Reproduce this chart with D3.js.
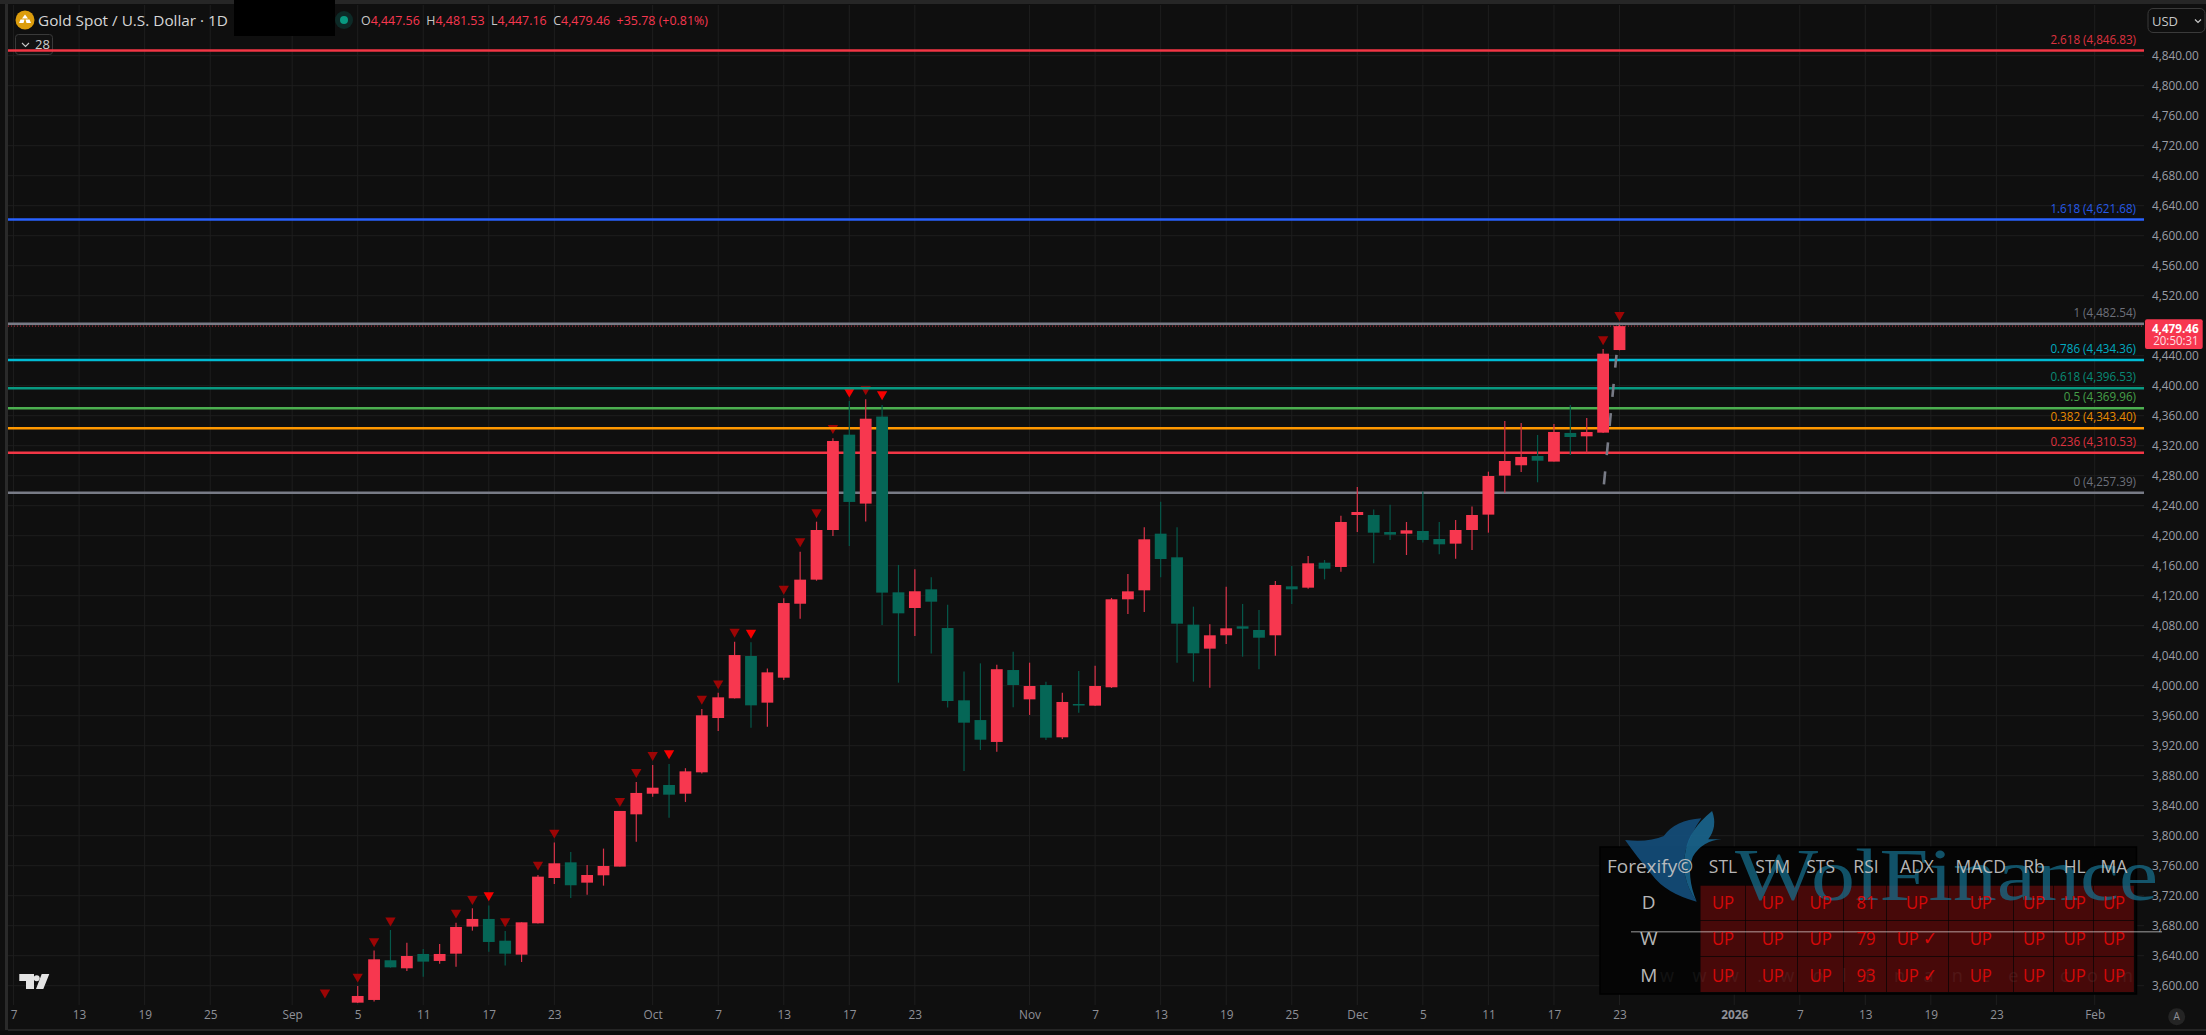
<!DOCTYPE html>
<html><head><meta charset="utf-8">
<style>html,body{margin:0;padding:0;background:#0f0f0f;overflow:hidden}svg{display:block}text{font-family:"Open Sans",sans-serif}</style>
<script src="https://cdnjs.cloudflare.com/ajax/libs/d3/7.9.0/d3.min.js"></script>
</head><body>
<svg id="c" width="2206" height="1035"></svg>
<script>
// ---- data (bar index 0 = 5 Sep, trading days) ----
const barDates=["Sep 5","Sep 8","Sep 9","Sep 10","Sep 11","Sep 12","Sep 15","Sep 16","Sep 17","Sep 18","Sep 19","Sep 22","Sep 23","Sep 24","Sep 25","Sep 26","Sep 29","Sep 30","Oct 1","Oct 2","Oct 3","Oct 6","Oct 7","Oct 8","Oct 9","Oct 10","Oct 13","Oct 14","Oct 15","Oct 16","Oct 17","Oct 20","Oct 21","Oct 22","Oct 23","Oct 24","Oct 27","Oct 28","Oct 29","Oct 30","Oct 31","Nov 3","Nov 4","Nov 5","Nov 6","Nov 7","Nov 10","Nov 11","Nov 12","Nov 13","Nov 14","Nov 17","Nov 18","Nov 19","Nov 20","Nov 21","Nov 24","Nov 25","Nov 26","Nov 27","Nov 28","Dec 1","Dec 2","Dec 3","Dec 4","Dec 5","Dec 8","Dec 9","Dec 10","Dec 11","Dec 12","Dec 15","Dec 16","Dec 17","Dec 18","Dec 19","Dec 22","Dec 23"];
const opens=[3577.4,3581,3633.9,3623.2,3642.3,3633,3642.7,3678.8,3689,3660,3641.4,3683.2,3743.6,3764.5,3737.4,3747.2,3758.8,3828.5,3856,3867.6,3856,3884.5,3956.9,3983.2,4039.6,3977.4,4010.7,4109.3,4141.4,4207.6,4334.7,4242.8,4358.8,4124.5,4103.6,4128.5,4076.9,3980.5,3954.2,3925,4020.9,3981.8,4000.9,3931.2,3975.6,3973.4,3997.9,4115.2,4127.2,4202.7,4171.2,4081.4,4049.4,4067.2,4079.2,4074.3,4067.2,4132.5,4130.7,4164,4158.3,4227.6,4227.6,4204.9,4202.7,4206.3,4195.6,4189.4,4207.6,4228.1,4280.1,4293.9,4306.3,4298.8,4337,4332.5,4337.4,4447.56];
const highs=[3599.7,3646.8,3674.3,3657.4,3649,3655.6,3684,3703.2,3706.8,3673,3684.5,3747.6,3790.8,3778.3,3761,3782.8,3833,3871.6,3894.3,3895.6,3890,3968.9,3990.7,4058.7,4057.8,4023,4116.5,4178.7,4218.7,4329.9,4379.6,4381.9,4374.3,4161,4155.2,4144.5,4108,4019.1,4029.8,4028,4045.4,4030.7,4005.4,3990.7,4019.6,4026.7,4117,4149,4211.2,4245.4,4211.2,4105.4,4081.8,4132,4109,4101,4139.6,4159.6,4172.9,4167.6,4226.7,4265,4235,4241.4,4218.3,4258.8,4218.3,4221,4238.8,4285.4,4353,4350.3,4334.3,4349,4374.3,4357,4449,4481.53];
const lows=[3577,3578.8,3624,3619.7,3612,3629.4,3625.4,3673.4,3645.4,3626.8,3631.6,3683,3735.6,3717,3721.4,3733.4,3758.8,3792,3852,3824,3845,3883,3939.6,3983,3944,3945.4,4007.6,4089.4,4140,4199.6,4186.3,4218.8,4081,4004,4066.3,4043.1,3971.1,3886.3,3914.3,3912,3971.2,3961,3927.6,3929,3964,3973,3997,4095.6,4098.3,4144.5,4030.7,4005.4,3997.4,4055.6,4038.7,4021.8,4040.1,4108.9,4129.4,4141.8,4152.1,4204.9,4163.2,4194.3,4174.3,4190.8,4175.2,4169.4,4181,4204.1,4257.4,4285,4271.2,4298.8,4307.6,4309.9,4337,4447.16];
const closes=[3586.3,3635.2,3624.5,3639.6,3632.1,3642.3,3678.3,3689,3658.3,3642.7,3684.5,3745.4,3763.2,3733.9,3747.6,3759.6,3833,3857,3864,3854.7,3885.8,3960.5,3984.5,4040.9,3973.8,4017.8,4110.2,4141.4,4207.6,4326.3,4245,4356,4124.1,4096.5,4125.9,4112,3979.6,3950.7,3928,4022,4000.9,3999.6,3930.7,3978.3,3974.3,3999.6,4115.2,4125.8,4195.2,4168.9,4082.7,4043.2,4067.2,4076.5,4076,4064,4134.3,4128.5,4163.2,4156,4218.3,4231.6,4204,4201.4,4207.2,4194.3,4188.5,4207.6,4227.6,4279.6,4299.6,4305,4300,4338.3,4331.6,4338.3,4442.7,4479.46];
const markerIdx=[-2,0,1,2,6,7,8,9,11,12,16,17,18,19,21,22,23,24,26,27,28,29,30,31,32,76,77];
const markerPrice=[3590.8,3612.1,3659.2,3686.8,3697.4,3715.6,3720.5,3685.9,3761.4,3804.1,3846.3,3885,3907.6,3909.8,3982.7,4003.1,4072,4070.7,4129.3,4192.5,4231.2,4343.6,4392.1,4395.2,4388.5,4461.9,4494.3];
const markerBright=[0,0,0,0,0,0,1,0,0,0,0,0,0,1,0,0,0,1,0,0,0,0,1,0,1,0,0];
const fibRatio=["2.618","1.618","1","0.786","0.618","0.5","0.382","0.236","0"];
const fibPrice=[4846.83,4621.68,4482.54,4434.36,4396.53,4369.96,4343.40,4310.53,4257.39];
const fibColor=["#f23645","#2962ff","#787b86","#00bcd4","#089981","#4caf50","#ff9800","#f23645","#787b86"];
const priceTicks=d3.range(3600,4841,40);
const xTickIdx=[-21,-17,-13,-9,-4,0,4,8,12,18,22,26,30,34,41,45,49,53,57,61,65,69,73,77,84,88,92,96,100,106];
const xTickLabels=["7","13","19","25","Sep","5","11","17","23","Oct","7","13","17","23","Nov","7","13","19","25","Dec","5","11","17","23","2026","7","13","19","23","Feb"];
const tableCols=["STL","STM","STS","RSI","ADX","MACD","Rb","HL","MA"];
const tableRows=["D","W","M"];
const tableD=["UP","UP","UP","81","UP","UP","UP","UP","UP"];
const tableW=["UP","UP","UP","79","UP ✓","UP","UP","UP","UP"];
const tableM=["UP","UP","UP","93","UP ✓","UP","UP","UP","UP"];

const UP="#f7374f",DOWN="#056656",BG="#0f0f0f";
const svg=d3.select("#c");
const x=d3.scaleLinear().domain([0,77]).range([357.7,1619.5]);
const y=d3.scaleLinear().domain([3600,4840]).range([985.7,55.7]);
const R=2144,L=8,T=5,B=1005;
// condense real text horizontally, keeping its height
const squeeze=(sel,f)=>sel.each(function(){const w=this.getComputedTextLength();d3.select(this).attr("textLength",w*f).attr("lengthAdjust","spacingAndGlyphs");});
svg.append("rect").attr("width",2206).attr("height",1035).attr("fill",BG);
// window frame
svg.append("rect").attr("x",0).attr("y",0).attr("width",2206).attr("height",4).attr("fill","#262626");
svg.append("rect").attr("x",5).attr("y",4).attr("width",3).attr("height",1026).attr("fill","#2a2a2a");
svg.append("rect").attr("x",8).attr("y",1029).attr("width",2198).attr("height",2).attr("fill","#242424");
svg.append("rect").attr("x",0).attr("y",1031).attr("width",2206).attr("height",4).attr("fill","#0c0c0c");
svg.append("defs").append("clipPath").attr("id","plot").append("rect").attr("x",L).attr("y",T).attr("width",R-L).attr("height",B-T);
const plot=svg.append("g").attr("clip-path","url(#plot)");
// grid
plot.append("g").selectAll("line").data(priceTicks).join("line").attr("x1",L).attr("x2",R).attr("y1",d=>y(d)).attr("y2",d=>y(d)).attr("stroke","#1e1e1e").attr("stroke-width",1);
plot.append("g").selectAll("line").data(xTickIdx).join("line").attr("x1",d=>x(d)).attr("x2",d=>x(d)).attr("y1",T).attr("y2",B).attr("stroke","#1e1e1e").attr("stroke-width",1);
// markers beneath the fib lines
plot.append("g").selectAll("path").data(markerIdx).join("path")
  .attr("d",d3.symbol(d3.symbolTriangle,46))
  .attr("transform",(d,i)=>`translate(${x(d)},${y(markerPrice[i])}) rotate(180)`)
  .attr("fill",(d,i)=>markerBright[i]?"#f80000":"#9c0505");
// fib lines
plot.append("g").selectAll("line").data(fibPrice).join("line").attr("x1",L).attr("x2",R).attr("y1",d=>y(d)).attr("y2",d=>y(d)).attr("stroke",(d,i)=>fibColor[i]).attr("stroke-width",2.5);
// fib trend line
plot.append("line").attr("x1",x(76)).attr("y1",y(4257.39)).attr("x2",x(77)).attr("y2",y(4482.54)).attr("stroke","#787b86").attr("stroke-width",2.6).attr("stroke-dasharray","13 16.3").attr("stroke-dashoffset",21);
// candles
const candle=plot.append("g").selectAll("g").data(barDates).join("g");
candle.append("line").attr("x1",(d,i)=>x(i)).attr("x2",(d,i)=>x(i)).attr("y1",(d,i)=>y(highs[i])).attr("y2",(d,i)=>y(lows[i])).attr("stroke",(d,i)=>closes[i]>=opens[i]?"#d83349":"#05584a").attr("stroke-width",1.2);
candle.append("rect").attr("x",(d,i)=>x(i)-5.9).attr("width",11.8).attr("y",(d,i)=>y(Math.max(opens[i],closes[i]))).attr("height",(d,i)=>Math.max(1.5,Math.abs(y(opens[i])-y(closes[i])))).attr("fill",(d,i)=>closes[i]>=opens[i]?UP:DOWN);
// close dotted
const lastClose=closes[closes.length-1];
plot.append("line").attr("x1",L).attr("x2",R).attr("y1",y(lastClose)).attr("y2",y(lastClose)).attr("stroke",UP).attr("stroke-width",1).attr("stroke-dasharray","1 2").attr("opacity",.75);
// fib labels
svg.append("g").selectAll("text").data(fibPrice).join("text").attr("x",2136).attr("y",d=>y(d)-11.4).attr("dy","0.35em").attr("text-anchor","end").attr("font-size",12.8).attr("fill",(d,i)=>fibColor[i]).attr("opacity",.9).text((d,i)=>`${fibRatio[i]} (${d3.format(",.2f")(d)})`).call(squeeze,.91);
// axes
const yAxis=d3.axisRight(y).tickValues(priceTicks).tickFormat(d3.format(",.2f")).tickSize(0).tickPadding(0);
const gy=svg.append("g").attr("transform","translate(2146,0)").call(yAxis);
gy.select(".domain").remove();
gy.selectAll("text").attr("x",52.7).attr("text-anchor","end").attr("font-size",13).attr("fill","#9a9da6").style("font-family",'"Open Sans",sans-serif').call(squeeze,.91);
const xAxis=d3.axisBottom(x).tickValues(xTickIdx).tickFormat((d,i)=>xTickLabels[i]).tickSize(0).tickPadding(0);
const gx=svg.append("g").attr("transform","translate(0,1010)").call(xAxis);
gx.select(".domain").remove();
gx.selectAll("text").attr("font-size",13).attr("fill","#8f9198").style("font-family",'"Open Sans",sans-serif').attr("font-weight",(d,i)=>xTickLabels[i]==="2026"?700:400).call(squeeze,.91);
// price tag
svg.append("rect").attr("x",2145).attr("y",319.3).attr("width",57.7).attr("height",29.7).attr("rx",2).attr("fill",UP);
svg.append("text").attr("x",2198.7).attr("y",326.5+1.5).attr("dy","0.35em").attr("text-anchor","end").attr("font-size",13).attr("font-weight",700).attr("fill","#fff").text(d3.format(",.2f")(lastClose)).call(squeeze,.9);
svg.append("text").attr("x",2198.7).attr("y",341).attr("dy","0.35em").attr("text-anchor","end").attr("font-size",12.5).attr("fill","#ffdfe3").text("20:50:31").call(squeeze,.92);
// USD + auto
svg.append("rect").attr("x",2148).attr("y",8.5).attr("width",57).attr("height",24).attr("rx",5).attr("fill",BG).attr("stroke","#3a3a3a");
svg.append("text").attr("x",2152).attr("y",21).attr("dy","0.35em").attr("font-size",13).attr("fill","#c8c8c8").text("USD");
svg.append("path").attr("d","M2195 19.5l3 3 3-3").attr("fill","none").attr("stroke","#c8c8c8").attr("stroke-width",1.2);
svg.append("circle").attr("cx",2176.7).attr("cy",1016.7).attr("r",8.5).attr("fill","#242424");
svg.append("text").attr("x",2176.7).attr("y",1016.7).attr("dy","0.35em").attr("text-anchor","middle").attr("font-size",10).attr("fill","#8f9198").text("A");
// header
svg.append("circle").attr("cx",25).attr("cy",20).attr("r",9.5).attr("fill","#dc9d0d");
svg.append("path").attr("d","M25 14.5l3 4h-6zM20.5 19.5h4l-1 3.500h-4.500zM25.500 19.500h4l1.500 3.500h-4.500z").attr("fill","#fff");
svg.append("text").attr("x",38).attr("y",20.5).attr("dy","0.35em").attr("font-size",15).attr("fill","#d6d6d6").attr("textLength",190).attr("lengthAdjust","spacingAndGlyphs").text("Gold Spot / U.S. Dollar · 1D");
svg.append("rect").attr("x",234).attr("y",0).attr("width",101).attr("height",36).attr("fill","#000");
svg.append("circle").attr("cx",344).attr("cy",20).attr("r",9).attr("fill","#0d2a27");
svg.append("circle").attr("cx",344).attr("cy",20).attr("r",4).attr("fill","#089981");
const ohlc=svg.append("text").attr("x",361).attr("y",20.5).attr("dy","0.35em").attr("font-size",13).attr("textLength",347).attr("lengthAdjust","spacingAndGlyphs");
[["O","#c8c8c8"],["4,447.56 ",UP],[" H","#c8c8c8"],["4,481.53 ",UP],[" L","#c8c8c8"],["4,447.16 ",UP],[" C","#c8c8c8"],["4,479.46 ",UP],[" +35.78 (+0.81%)",UP]].forEach(p=>ohlc.append("tspan").attr("fill",p[1]).attr("xml:space","preserve").text(p[0]));
svg.append("rect").attr("x",15.5).attr("y",34.5).attr("width",37).attr("height",20).attr("rx",3).attr("fill","#121212").attr("stroke","#3a3a3a");
svg.append("line").attr("x1",15).attr("x2",53).attr("y1",y(4846.83)).attr("y2",y(4846.83)).attr("stroke","#f23645").attr("stroke-width",2.5);
svg.append("path").attr("d","M22 43l3.500 3.500 3.500-3.500").attr("fill","none").attr("stroke","#c8c8c8").attr("stroke-width",1.1);
svg.append("text").attr("x",35).attr("y",44.5).attr("dy","0.35em").attr("font-size",13).attr("fill","#d0d0d0").text("28");
// TV logo
svg.append("path").attr("fill","#e4e4e4").attr("d","M19.300 974H34V989H26V981H19.300ZM41.700 974H49.300L43.300 989H36Z");
svg.append("circle").attr("cx",36.700).attr("cy",978.300).attr("r",3).attr("fill","#e4e4e4");
// watermark sits under the table's texts and over its cells
const colEdges=[1700.5,1746,1798,1844,1887,1949,2014,2054,2094,2134.6];
const colCenters=[1723,1772.8,1820.7,1866,1917,1980.8,2034,2074.7,2114];
const rowEdges=[885.7,921,957,992.7];
const rowCenters=[902.7,938.7,975];
svg.append("rect").attr("x",1600).attr("y",847).attr("width",536.5).attr("height",147).attr("fill","#050505").attr("stroke","#000").attr("stroke-width",1.5);
const tbl=svg.append("g");
[tableD,tableW,tableM].forEach((row,r)=>row.forEach((v,c)=>{
  tbl.append("rect").attr("x",colEdges[c]).attr("y",rowEdges[r]).attr("width",colEdges[c+1]-colEdges[c]-.7).attr("height",rowEdges[r+1]-rowEdges[r]-.7).attr("fill","#470909");
}));
// watermark
const wm=svg.append("g");
const zx=v=>1600+v/2.587,zy=v=>800+v/3;
const wp=(pts)=>{const p=d3.path();pts.forEach((q,i)=>{if(q.length===2){i?p.lineTo(zx(q[0]),zy(q[1])):p.moveTo(zx(q[0]),zy(q[1]));}else p.quadraticCurveTo(zx(q[0]),zy(q[1]),zx(q[2]),zy(q[3]));});p.closePath();return p.toString();};
wm.append("path").attr("fill","#144f7c").attr("opacity",.9).attr("d",wp([[65,120],[125,128,165,108],[195,60,262,55],[235,100,222,150],[205,230,250,305],[170,280,135,225],[95,170,65,120]]));
wm.append("path").attr("fill","#1a6b96").attr("opacity",.85).attr("d",wp([[222,150],[230,90,290,33],[305,80,280,118],[315,118],[265,122,240,170],[222,225,250,305],[205,230,222,150]]));
wm.append("text").attr("x",1735).attr("y",900).attr("font-size",74).style("font-family",'"Liberation Serif",serif').attr("fill","#16708f").attr("opacity",.72).attr("textLength",423).attr("lengthAdjust","spacingAndGlyphs").text("WolFinance");
wm.append("text").attr("x",1660).attr("y",976).attr("dy","0.35em").attr("font-size",18).attr("fill","#fff").attr("opacity",.05).attr("textLength",473).text("www.wolfinance.com");
wm.append("line").attr("x1",1631).attr("x2",2162).attr("y1",931.7).attr("y2",931.7).attr("stroke","#fff").attr("stroke-opacity",.4).attr("stroke-width",1.4);
// table texts, faintly veiled by the watermark
const tt=svg.append("g").attr("opacity",.93);
[tableD,tableW,tableM].forEach((row,r)=>row.forEach((v,c)=>{
  tt.append("text").attr("x",colCenters[c]).attr("y",rowCenters[r]).attr("dy","0.35em").attr("text-anchor","middle").attr("font-size",19).attr("fill","#e00808").text(v).call(squeeze,.88);
}));
tableCols.forEach((t,c)=>tt.append("text").attr("x",colCenters[c]).attr("y",866.7).attr("dy","0.35em").attr("text-anchor","middle").attr("font-size",19).attr("fill","#c4c4c4").text(t).call(squeeze,.92));
tt.append("text").attr("x",1607).attr("y",866.7).attr("dy","0.35em").attr("font-size",19).attr("fill","#c4c4c4").attr("textLength",86).attr("lengthAdjust","spacingAndGlyphs").text("Forexify©");
tableRows.forEach((t,r)=>tt.append("text").attr("x",1648.7).attr("y",rowCenters[r]).attr("dy","0.35em").attr("text-anchor","middle").attr("font-size",19).attr("fill","#c4c4c4").text(t));
</script>
</body></html>
